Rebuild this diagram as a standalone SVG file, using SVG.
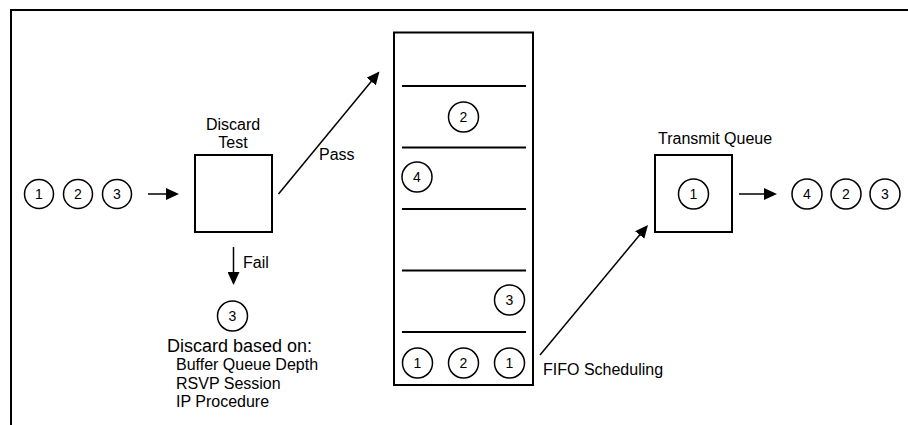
<svg xmlns="http://www.w3.org/2000/svg" width="908" height="425" viewBox="0 0 908 425">
<style>
text{font-family:"Liberation Sans",Arial,sans-serif;fill:#000}
.lbl{font-size:16px}
.num{font-size:14px;text-anchor:middle}
.pk{fill:#fff;stroke:#000;stroke-width:1.5}
.box{fill:#fff;stroke:#000;stroke-width:2}
.ln{stroke:#000;stroke-width:2;fill:none}
.arr{stroke:#000;stroke-width:1.5;fill:none;marker-end:url(#ah)}
</style>
<defs>
<marker id="ah" markerUnits="userSpaceOnUse" viewBox="0 0 13 12" refX="11" refY="6" markerWidth="13" markerHeight="12" orient="auto">
<path d="M0,0 L13,6 L0,12 Z" fill="#000"/>
</marker>
</defs>
<rect width="908" height="425" fill="#fff"/>
<g id="frame">
<path class="ln" d="M11,425 V10 H908"/>
</g>
<g id="input-packets">
<circle class="pk" cx="39" cy="194" r="14.5"/><text class="num" x="39" y="199">1</text>
<circle class="pk" cx="78" cy="194" r="14.5"/><text class="num" x="78" y="199">2</text>
<circle class="pk" cx="117" cy="194" r="14.5"/><text class="num" x="117" y="199">3</text>
</g>
<g id="discard-test">
<rect class="box" x="195" y="155" width="77" height="77"/>
<text class="lbl" x="233" y="130" text-anchor="middle">Discard</text>
<text class="lbl" x="233" y="148" text-anchor="middle">Test</text>
</g>
<g id="discarded">
<circle class="pk" cx="232.5" cy="316" r="15"/><text class="num" x="232.5" y="321">3</text>
<text x="167" y="352" style="font-size:18px">Discard based on:</text>
<text class="lbl" x="176" y="370">Buffer Queue Depth</text>
<text class="lbl" x="176" y="389">RSVP Session</text>
<text class="lbl" x="176" y="407">IP Procedure</text>
</g>
<g id="buffer-queue">
<rect class="box" x="394" y="32.5" width="139" height="352.5"/>
<g class="ln">
<line x1="402" y1="86" x2="526" y2="86"/>
<line x1="402" y1="147.5" x2="526" y2="147.5"/>
<line x1="402" y1="209" x2="526" y2="209"/>
<line x1="402" y1="270.5" x2="526" y2="270.5"/>
<line x1="402" y1="332" x2="526" y2="332"/>
</g>
<circle class="pk" cx="463.5" cy="117" r="15"/><text class="num" x="463.5" y="122">2</text>
<circle class="pk" cx="417" cy="177" r="15"/><text class="num" x="417" y="182">4</text>
<circle class="pk" cx="509.5" cy="300" r="15"/><text class="num" x="509.5" y="305">3</text>
<circle class="pk" cx="417.5" cy="363" r="15"/><text class="num" x="417.5" y="368">1</text>
<circle class="pk" cx="463.5" cy="363" r="15"/><text class="num" x="463.5" y="368">2</text>
<circle class="pk" cx="509.5" cy="363" r="15"/><text class="num" x="509.5" y="368">1</text>
</g>
<g id="transmit-queue">
<rect class="box" x="655" y="155" width="77" height="77"/>
<text class="lbl" x="658" y="144">Transmit Queue</text>
<circle class="pk" cx="693.5" cy="194" r="15"/><text class="num" x="693.5" y="199">1</text>
</g>
<g id="output-packets">
<circle class="pk" cx="807" cy="194" r="15"/><text class="num" x="807" y="199">4</text>
<circle class="pk" cx="846" cy="194" r="15"/><text class="num" x="846" y="199">2</text>
<circle class="pk" cx="885" cy="194" r="15"/><text class="num" x="885" y="199">3</text>
</g>
<g id="connectors">
<line class="arr" x1="148" y1="194" x2="177" y2="194"/>
<line class="arr" x1="233.5" y1="247" x2="233.5" y2="283"/>
<line class="arr" x1="278.5" y1="194" x2="378.2" y2="73"/>
<line class="arr" x1="540" y1="355" x2="646.7" y2="226.5"/>
<line class="arr" x1="739" y1="194" x2="775" y2="194"/>
<text class="lbl" x="319" y="160">Pass</text>
<text class="lbl" x="243" y="268">Fail</text>
<text class="lbl" x="543" y="375">FIFO Scheduling</text>
</g>
</svg>
